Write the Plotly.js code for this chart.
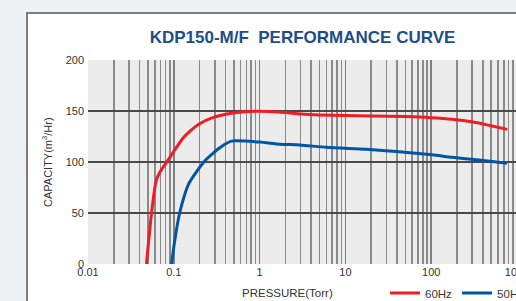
<!DOCTYPE html>
<html>
<head>
<meta charset="utf-8">
<script src="https://cdn.plot.ly/plotly-3.0.1.min.js"></script>
<style>
  html, body { margin: 0; padding: 0; width: 516px; height: 301px; overflow: hidden; background: #eff0f2; }
  #frame { position: absolute; left: 26px; top: 12px; width: 600px; height: 400px; background: #ffffff; border-left: 2px solid #7c7c7c; border-top: 2px solid #7c7c7c; }
  #plot { position: absolute; left: 0; top: 0; width: 540px; height: 301px; }
</style>
</head>
<body>
<div id="frame"></div>
<div id="plot"></div>
<script>
// Pressure (Torr) and capacity (m3/Hr)
const pressure60 = [0.048, 0.055, 0.062, 0.0687, 0.083, 0.103, 0.127, 0.158, 0.2, 0.284, 0.448, 0.766, 1.3, 2, 3, 5, 10, 20, 50, 100, 175, 300, 500, 770];
const capacity60 = [0, 50, 81, 90, 100, 112, 123, 131, 137.5, 143.5, 147.5, 149.5, 149.5, 148.5, 147, 146, 145.5, 145, 144.5, 143.5, 142, 139.5, 135.5, 132];

const pressure50 = [0.094, 0.1028, 0.117, 0.15, 0.224, 0.277, 0.35, 0.47, 1, 1.71, 2.92, 6, 17.4, 42.5, 103, 175, 361, 766];
const capacity50 = [0, 23.5, 50, 79, 100, 107.5, 114.5, 120.5, 119.5, 117.5, 116.7, 114.4, 112.4, 110, 107, 104.6, 102, 98.7];

const xTickVals = [0.01, 0.1, 1, 10, 100, 1000];
const xTickText = ['0.01', '0.1', '1', '10', '100', '1000'];
const yTickVals = [0, 50, 100, 150, 200];

const seriesNames = ['60Hz', '50Hz'];
const seriesColors = ['#ee1c25', '#0055a4'];

// minor grid positions (2..9 within each decade)
const minorVals = [];
for (let d = 0.01; d < 1000; d *= 10) {
  for (let k = 2; k <= 9; k++) minorVals.push(+(d * k).toPrecision(3));
}

const font = 'Liberation Sans, Arial, sans-serif';

const traces = [
  { x: pressure60, y: capacity60, name: seriesNames[0], type: 'scatter', mode: 'lines',
    line: { color: seriesColors[0], width: 3, shape: 'spline', smoothing: 0.6 } },
  { x: pressure50, y: capacity50, name: seriesNames[1], type: 'scatter', mode: 'lines',
    line: { color: seriesColors[1], width: 3, shape: 'spline', smoothing: 0.6 } }
];

const layout = {
  width: 540, height: 301,
  margin: { l: 88, r: 23, t: 60, b: 37, autoexpand: false },
  paper_bgcolor: 'rgba(0,0,0,0)',
  plot_bgcolor: '#ececec',
  font: { family: font, size: 11, color: '#333333' },
  title: {
    text: 'KDP150-M/F\u00a0 PERFORMANCE CURVE',
    font: { family: font, size: 17, color: '#1d4e89', weight: 'bold' },
    x: 0.5, xref: 'paper', xanchor: 'center',
    y: 1 - 37 / 301, yref: 'container', yanchor: 'middle'
  },
  xaxis: {
    type: 'log', range: [-2, 3], automargin: false,
    tickmode: 'array', tickvals: xTickVals, ticktext: xTickText,
    showgrid: true, gridcolor: '#808080', gridwidth: 1.6,
    minor: { tickmode: 'array', tickvals: minorVals, showgrid: true, gridcolor: '#8a8a8a', gridwidth: 1.6, ticks: '' },
    zeroline: false, showline: false, ticks: '',
    tickfont: { family: font, size: 11, color: '#333333' }
  },
  yaxis: {
    range: [0, 200], tickmode: 'array', tickvals: yTickVals, automargin: false,
    showgrid: true, gridcolor: '#4a4a4a', gridwidth: 1.2,
    zeroline: false, showline: false, ticks: '', ticklabelstandoff: 3,
    tickfont: { family: font, size: 11, color: '#333333' }
  },
  showlegend: true,
  legend: {
    orientation: 'h', x: (385 - 88) / 429, xanchor: 'left', y: (264 - 293) / 204, yanchor: 'middle',
    font: { family: font, size: 11.5, color: '#333333' }, bgcolor: 'rgba(0,0,0,0)',
    traceorder: 'normal'
  },
  annotations: [
    { text: 'PRESSURE(Torr)', xref: 'paper', yref: 'paper', x: (287 - 88) / 429, y: (264 - 293) / 204,
      xanchor: 'center', yanchor: 'middle', showarrow: false, font: { family: font, size: 11.5, color: '#333333' } },
    { text: 'CAPACITY(m<sup>3</sup>/Hr)', xref: 'paper', yref: 'paper', x: 0, xshift: -41, y: 0.5,
      xanchor: 'center', yanchor: 'middle', textangle: -90, showarrow: false, font: { family: font, size: 11, color: '#333333' } }
  ]
};

Plotly.newPlot('plot', traces, layout, { displayModeBar: false, staticPlot: true });
</script>
</body>
</html>
